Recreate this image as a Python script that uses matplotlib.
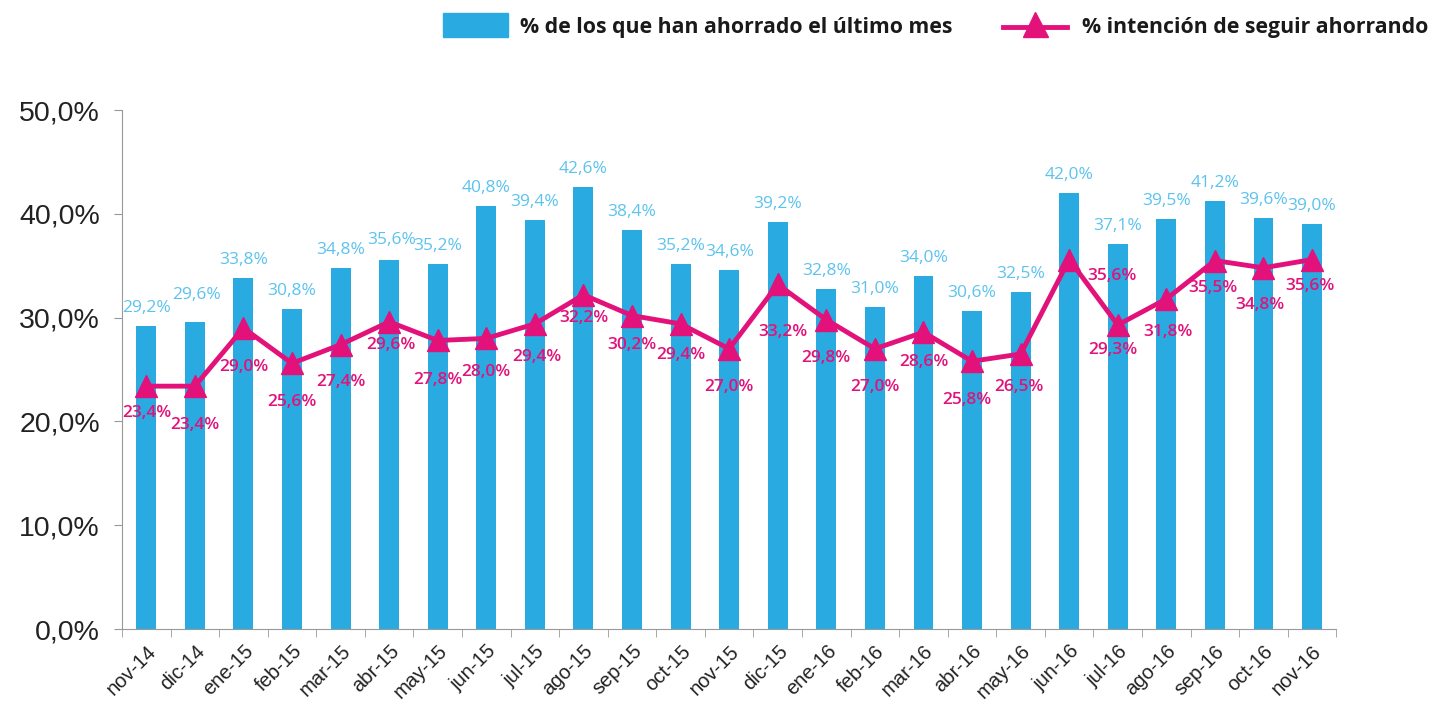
import matplotlib
matplotlib.use("Agg")
import matplotlib.pyplot as plt
from matplotlib.patches import Rectangle
from matplotlib.lines import Line2D

months = ["nov-14", "dic-14", "ene-15", "feb-15", "mar-15", "abr-15", "may-15", "jun-15",
          "jul-15", "ago-15", "sep-15", "oct-15", "nov-15", "dic-15", "ene-16", "feb-16",
          "mar-16", "abr-16", "may-16", "jun-16", "jul-16", "ago-16", "sep-16", "oct-16", "nov-16"]
ahorrado = [29.2, 29.6, 33.8, 30.8, 34.8, 35.6, 35.2, 40.8, 39.4, 42.6, 38.4, 35.2, 34.6,
            39.2, 32.8, 31.0, 34.0, 30.6, 32.5, 42.0, 37.1, 39.5, 41.2, 39.6, 39.0]
intencion = [23.4, 23.4, 29.0, 25.6, 27.4, 29.6, 27.8, 28.0, 29.4, 32.2, 30.2, 29.4, 27.0,
             33.2, 29.8, 27.0, 28.6, 25.8, 26.5, 35.6, 29.3, 31.8, 35.5, 34.8, 35.6]
yticks = [0, 10, 20, 30, 40, 50]
legend_labels = ["% de los que han ahorrado el último mes", "% intención de seguir ahorrando"]

BLUE = "#29abe2"
LBLUE = "#5cc3ee"
MAG = "#e2127a"

def fmt(v):
    return f"{v:.1f}%".replace(".", ",")

fig = plt.figure(figsize=(14.32, 7.10), dpi=100)
ax = fig.add_axes([0.0852, 0.114, 0.848, 0.731])

x = list(range(len(months)))
ax.bar(x, ahorrado, width=0.41, color=BLUE, zorder=2)
ax.plot(x, intencion, color=MAG, lw=3.5, marker="^", markersize=16, zorder=3)

# label placement (pixels: dx right, dy down) -- style only
bar_off = [(0, 18), (2, 27), (0, 18), (0, 18), (0, 18), (2, 20), (0, 18), (0, 18),
           (0, 18), (0, 18), (0, 18), (0, 18), (0, 18), (0, 18), (0, 18), (0, 18),
           (0, 18), (0, 18), (0, 18), (0, 18), (0, 18), (0, 18), (0, 18), (0, 18), (0, 18)]
line_off = [(1, 27), (0, 39), (0, 39), (0, 39), (0, 37), (2, 23), (0, 40), (0, 34),
            (2, 33), (0, 23), (0, 29), (0, 31), (0, 38), (5, 48), (0, 38), (0, 38),
            (0, 30), (-5, 39), (-2, 33), (43, 16), (-5, 25), (2, 33), (-2, 27), (-4, 37), (-2, 26)]
PX = 0.72

for i, v in enumerate(ahorrado):
    dx, dy = bar_off[i]
    ax.annotate(fmt(v), (i, v), xytext=(dx * PX, dy * PX), textcoords="offset points",
                ha="center", va="center", fontsize=12.5, color=LBLUE,
                family="Open Sans", zorder=4)

for i, v in enumerate(intencion):
    dx, dy = line_off[i]
    ax.annotate(fmt(v), (i, v), xytext=(dx * PX, -dy * PX), textcoords="offset points",
                ha="center", va="center", fontsize=12.5, color=MAG,
                family="Open Sans", fontweight="semibold", zorder=4)

ax.set_xlim(-0.5, len(months) - 0.5)
ax.set_ylim(0, 50)
ax.set_yticks(yticks)
ax.set_yticklabels([fmt(t) for t in yticks], fontsize=20.5, family="Liberation Sans", color="#222222")
ax.set_xticks(x)
ax.set_xticklabels(months, rotation=45, ha="right", rotation_mode="anchor",
                   fontsize=14.5, family="Liberation Sans", color="#222222")
ax.set_xticks([i - 0.5 for i in range(len(months) + 1)], minor=True)
ax.tick_params(axis="x", which="major", length=0, pad=9)
ax.tick_params(axis="x", which="minor", length=6, color="#999999")
ax.tick_params(axis="y", length=6, color="#999999", pad=10)
for s in ["top", "right"]:
    ax.spines[s].set_visible(False)
ax.spines["left"].set_color("#999999")
ax.spines["bottom"].set_color("#999999")

# legend
fig.patches.append(Rectangle((443 / 1432, 1 - 37 / 710), 65 / 1432, 24 / 710,
                             transform=fig.transFigure, color=BLUE))
fig.text(520 / 1432, 1 - 27 / 710, legend_labels[0], fontsize=15.3, fontweight="bold",
         family="Open Sans", color="#1a1a1a", va="center", ha="left")
fig.lines.append(Line2D([1003 / 1432, 1067 / 1432], [1 - 27 / 710, 1 - 27 / 710],
                        transform=fig.transFigure, color=MAG, lw=3.5))
fig.lines.append(Line2D([1035 / 1432], [1 - 24 / 710], transform=fig.transFigure,
                        color=MAG, marker="^", markersize=18, lw=0))
fig.text(1082 / 1432, 1 - 27 / 710, legend_labels[1], fontsize=15.3, fontweight="bold",
         family="Open Sans", color="#1a1a1a", va="center", ha="left")

fig.savefig("out.png", dpi=100)
